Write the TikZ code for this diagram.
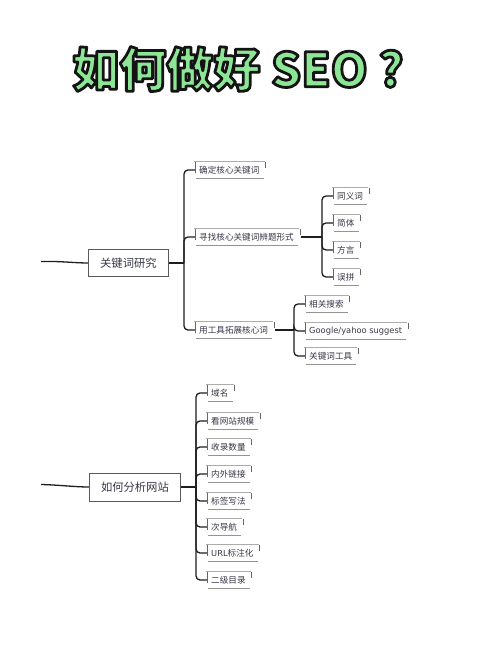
\documentclass[tikz,border=0pt]{standalone}
\usepackage{fontspec}
\newfontfamily\cjk{Noto Sans CJK SC}
\newfontfamily\latinw{DejaVu Sans}
\usetikzlibrary{calc}
\definecolor{txt}{RGB}{55,55,72}
\definecolor{linec}{RGB}{30,30,30}
\definecolor{boxc}{RGB}{90,90,90}
\definecolor{green1}{RGB}{140,230,150}
\newcommand\outlined[1]{\special{pdf:literal direct 0.08 0.08 0.08 RG 2.8 w 1 j 2 Tr}#1\special{pdf:literal direct 0 Tr}}
\begin{document}
\begin{tikzpicture}[x=1pt,y=-1pt,
  titlestyle/.style={font=\cjk\bfseries\fontsize{47}{50}\selectfont, inner sep=0pt},
  small/.style={anchor=west, font=\cjk\fontsize{8.6}{10}\selectfont, text=txt, inner xsep=4pt, inner ysep=0pt, minimum height=16pt},
  big/.style={anchor=west, font=\cjk\fontsize{11.3}{13}\selectfont, text=txt, inner sep=0pt, draw=boxc, line width=0.8pt},
  conn/.style={draw=linec, line width=1.3pt, rounded corners=4pt},
  topl/.style={draw=gray!65, line width=0.7pt},
  botl/.style={draw=gray!85, line width=0.9pt},
  tickl/.style={draw=gray!80!black, line width=0.8pt}
]
\useasboundingbox (0,0) rectangle (500,656);
\fill[white] (0,0) rectangle (500,656);

% title with outline
\node[titlestyle, text=green1] (title) at (238,69) {\outlined{如何做好 SEO ?}};

% ---------- section 1 ----------
\node[big, minimum width=80pt, minimum height=27pt] (k0) at (88,263) {关键词研究};
\coordinate (s1) at (41,261.5);
\draw[conn] (s1) .. controls (60,261) and (75,263) .. (k0.west);

\node[small] (a1) at (195,170) {确定核心关键词};
\node[small] (a2) at (195,237) {寻找核心关键词辨题形式};
\node[small] (a3) at (195,330) {用工具拓展核心词};

\coordinate (t1) at (184,263);
\draw[conn] (k0.east) -- (t1);
\draw[conn] (t1) |- (a1.west);
\draw[conn] (t1) |- (a2.west);
\draw[conn] (t1) |- (a3.west);

\node[small] (b1) at (333,196) {同义词};
\node[small] (b2) at (333,223) {简体};
\node[small] (b3) at (333,250) {方言};
\node[small] (b4) at (333,277) {误拼};
\coordinate (t2) at (322,237);
\draw[conn] ([xshift=3pt]a2.east) -- (t2);
\foreach \n in {b1,b2,b3,b4} { \draw[conn] (t2) |- (\n.west); }

\node[small] (c1) at (305,304) {相关搜索};
\node[small] (c2) at (305,331) {{\latinw\fontsize{8.3}{10}\selectfont Google/yahoo suggest}};
\node[small] (c3) at (305,356) {关键词工具};
\coordinate (t3) at (294,330);
\draw[conn] ([xshift=3pt]a3.east) -- (t3);
\foreach \n in {c1,c2,c3} { \draw[conn] (t3) |- (\n.west); }

% ---------- section 2 ----------
\node[big, minimum width=91pt, minimum height=28pt] (k1) at (89,487) {如何分析网站};
\coordinate (s2) at (41,484.5);
\draw[conn] (s2) .. controls (60,485) and (75,487) .. (k1.west);

\node[small] (d1) at (207,393) {域名};
\node[small] (d2) at (207,421) {看网站规模};
\node[small] (d3) at (207,447) {收录数量};
\node[small] (d4) at (207,474) {内外链接};
\node[small] (d5) at (207,501) {标签写法};
\node[small] (d6) at (207,527) {次导航};
\node[small] (d7) at (207,553) {{\latinw\fontsize{8.3}{10}\selectfont URL}标注化};
\node[small] (d8) at (207,580) {二级目录};
\coordinate (t4) at (196,487);
\draw[conn] (k1.east) -- (t4);
\foreach \n in {d1,d2,d3,d4,d5,d6,d7,d8} { \draw[conn] (t4) |- (\n.west); }

% sketchy box outlines
\foreach \n in {a1,a2,a3,b1,b2,b3,b4,c1,c2,c3,d1,d2,d3,d4,d5,d6,d7,d8} {
  \draw[topl] ([xshift=-1pt]\n.north west) -- ([xshift=1pt]\n.north east);
  \draw[botl] ([xshift=1pt]\n.south west) -- (\n.south east);
  \draw[tickl] (\n.north west) -- ([yshift=-3pt]\n.west);
  \draw[tickl] ([xshift=2pt]\n.north east) -- ([xshift=2pt,yshift=-6pt]\n.north east);
}
\end{tikzpicture}
\end{document}
